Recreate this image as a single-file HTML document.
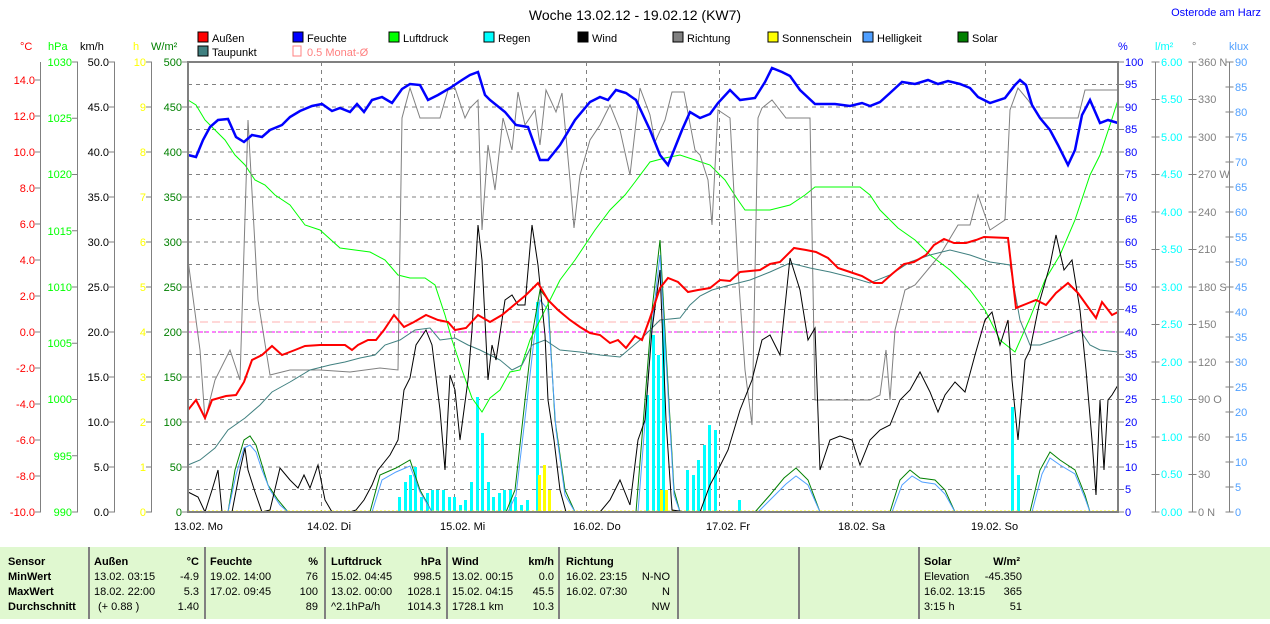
<!DOCTYPE html>
<html><head><meta charset="utf-8"><style>
body{margin:0;background:#fff;}
svg text{font-family:"Liberation Sans",sans-serif;font-size:11px;}
</style></head><body>
<svg width="1270" height="619" xmlns="http://www.w3.org/2000/svg">
<rect width="1270" height="619" fill="#fff"/>
<text x="635" y="20" text-anchor="middle" style="font-size:14px">Woche 13.02.12 - 19.02.12 (KW7)</text>
<text x="1261" y="16" text-anchor="end" fill="#0000ff">Osterode am Harz</text>
<g>
<rect x="198" y="32" width="10" height="10" fill="#ff0000" stroke="#000"/><text x="212" y="42">Außen</text>
<rect x="293" y="32" width="10" height="10" fill="#0000ff" stroke="#000"/><text x="307" y="42">Feuchte</text>
<rect x="389" y="32" width="10" height="10" fill="#00ff00" stroke="#000"/><text x="403" y="42">Luftdruck</text>
<rect x="484" y="32" width="10" height="10" fill="#00ffff" stroke="#000"/><text x="498" y="42">Regen</text>
<rect x="578" y="32" width="10" height="10" fill="#000" stroke="#000"/><text x="592" y="42">Wind</text>
<rect x="673" y="32" width="10" height="10" fill="#808080" stroke="#000"/><text x="687" y="42">Richtung</text>
<rect x="768" y="32" width="10" height="10" fill="#ffff00" stroke="#000"/><text x="782" y="42">Sonnenschein</text>
<rect x="863" y="32" width="10" height="10" fill="#4f9fff" stroke="#000"/><text x="877" y="42">Helligkeit</text>
<rect x="958" y="32" width="10" height="10" fill="#008000" stroke="#000"/><text x="972" y="42">Solar</text>
<rect x="198" y="46" width="10" height="10" fill="#408080" stroke="#000"/><text x="212" y="56">Taupunkt</text>
<rect x="293" y="46" width="8" height="10" fill="none" stroke="#ff8080"/><text x="307" y="56" fill="#ff8080">0.5 Monat-Ø</text>
</g>
<text x="20" y="50" fill="#ff0000">°C</text>
<text x="48" y="50" fill="#00ff00">hPa</text>
<text x="80" y="50">km/h</text>
<text x="133" y="50" fill="#ffff00">h</text>
<text x="151" y="50" fill="#008000">W/m²</text>
<text x="1118" y="50" fill="#0000ff">%</text>
<text x="1155" y="50" fill="#00ffff">l/m²</text>
<text x="1192" y="50" fill="#808080">°</text>
<text x="1229" y="50" fill="#4f9fff">klux</text>
<g stroke="#808080" stroke-width="1">
<line x1="40.5" y1="62" x2="40.5" y2="512"/><line x1="77.5" y1="62" x2="77.5" y2="512"/>
<line x1="114.5" y1="62" x2="114.5" y2="512"/><line x1="151.5" y1="62" x2="151.5" y2="512"/>
<line x1="1155.5" y1="62" x2="1155.5" y2="512"/><line x1="1192.5" y1="62" x2="1192.5" y2="512"/>
<line x1="1229.5" y1="62" x2="1229.5" y2="512"/>
</g>
<!-- ticks -->
<g stroke="#808080" fill="none">
<line x1="38" y1="79.5" x2="38" y2="513" stroke-width="6" stroke-dasharray="1 35"/>
<line x1="75" y1="61.5" x2="75" y2="513" stroke-width="6" stroke-dasharray="1 55.25"/>
<line x1="112" y1="61.5" x2="112" y2="513" stroke-width="6" stroke-dasharray="1 44"/>
<line x1="149" y1="61.5" x2="149" y2="513" stroke-width="6" stroke-dasharray="1 44"/>
<line x1="185" y1="61.5" x2="185" y2="513" stroke-width="6" stroke-dasharray="1 44"/>
<line x1="1121" y1="61.5" x2="1121" y2="513" stroke-width="6" stroke-dasharray="1 21.5"/>
<line x1="1155.5" y1="61.5" x2="1155.5" y2="513" stroke-width="8" stroke-dasharray="1 36.5"/>
<line x1="1192.5" y1="61.5" x2="1192.5" y2="513" stroke-width="8" stroke-dasharray="1 36.5"/>
<line x1="1229.5" y1="61.5" x2="1229.5" y2="513" stroke-width="8" stroke-dasharray="1 24"/>
</g>
<g stroke="#808080" stroke-dasharray="4,4" stroke-width="1">
<line x1="188" y1="84.5" x2="1118" y2="84.5"/><line x1="188" y1="107" x2="1118" y2="107"/><line x1="188" y1="129.5" x2="1118" y2="129.5"/><line x1="188" y1="152" x2="1118" y2="152"/><line x1="188" y1="174.5" x2="1118" y2="174.5"/><line x1="188" y1="197" x2="1118" y2="197"/><line x1="188" y1="219.5" x2="1118" y2="219.5"/><line x1="188" y1="242" x2="1118" y2="242"/><line x1="188" y1="264.5" x2="1118" y2="264.5"/><line x1="188" y1="287" x2="1118" y2="287"/><line x1="188" y1="309.5" x2="1118" y2="309.5"/><line x1="188" y1="332" x2="1118" y2="332"/><line x1="188" y1="354.5" x2="1118" y2="354.5"/><line x1="188" y1="377" x2="1118" y2="377"/><line x1="188" y1="399.5" x2="1118" y2="399.5"/><line x1="188" y1="422" x2="1118" y2="422"/><line x1="188" y1="444.5" x2="1118" y2="444.5"/><line x1="188" y1="467" x2="1118" y2="467"/><line x1="188" y1="489.5" x2="1118" y2="489.5"/>
<line x1="321.5" y1="62" x2="321.5" y2="512"/><line x1="454.5" y1="62" x2="454.5" y2="512"/><line x1="586.5" y1="62" x2="586.5" y2="512"/><line x1="719.5" y1="62" x2="719.5" y2="512"/><line x1="852.5" y1="62" x2="852.5" y2="512"/><line x1="985.5" y1="62" x2="985.5" y2="512"/>
</g>
<line x1="188" y1="322" x2="1118" y2="322" stroke="#ffb0b0" stroke-dasharray="8,4"/>
<line x1="188" y1="332" x2="1118" y2="332" stroke="#ff00ff" stroke-dasharray="3,3" stroke-width="1"/>
<g fill="#00ffff">
<rect x="398" y="497" width="3" height="15"/><rect x="404" y="482" width="3" height="30"/><rect x="409" y="475" width="3" height="37"/><rect x="414" y="467" width="3" height="45"/><rect x="420" y="497" width="3" height="15"/><rect x="426" y="493" width="3" height="19"/><rect x="431" y="490" width="3" height="22"/><rect x="436" y="490" width="3" height="22"/><rect x="442" y="490" width="3" height="22"/><rect x="448" y="497" width="3" height="15"/><rect x="453" y="497" width="3" height="15"/><rect x="459" y="505" width="3" height="7"/><rect x="464" y="500" width="3" height="12"/><rect x="470" y="482" width="3" height="30"/><rect x="476" y="397" width="3" height="115"/><rect x="481" y="433" width="3" height="79"/><rect x="487" y="482" width="3" height="30"/><rect x="492" y="497" width="3" height="15"/><rect x="498" y="493" width="3" height="19"/><rect x="503" y="490" width="3" height="22"/><rect x="509" y="490" width="3" height="22"/><rect x="514" y="497" width="3" height="15"/><rect x="520" y="505" width="3" height="7"/><rect x="526" y="500" width="3" height="12"/><rect x="536" y="302" width="3" height="210"/>
<rect x="646" y="395" width="3" height="117"/><rect x="652" y="335" width="3" height="177"/><rect x="657" y="355" width="3" height="157"/><rect x="662" y="320" width="3" height="192"/><rect x="686" y="470" width="3" height="42"/><rect x="692" y="475" width="3" height="37"/><rect x="697" y="460" width="3" height="52"/><rect x="703" y="445" width="3" height="67"/><rect x="708" y="425" width="3" height="87"/><rect x="714" y="430" width="3" height="82"/><rect x="738" y="500" width="3" height="12"/><rect x="1011" y="407" width="3" height="105"/><rect x="1017" y="475" width="3" height="37"/>
</g>
<g fill="#ffff00"><rect x="538" y="475" width="3" height="37"/><rect x="543" y="465" width="3" height="47"/><rect x="548" y="490" width="3" height="22"/><rect x="660" y="490" width="3" height="22"/><rect x="665" y="490" width="3" height="22"/></g>
<line x1="188" y1="511" x2="1118" y2="511" stroke="#ffff00" stroke-dasharray="2,2"/>
<polyline fill="none" stroke="#008000" points="188,512 228,512 235,470 244,440 250,436 256,445 262,465 268,485 278,500 288,512 370,512 380,475 396,468 410,460 420,490 432,512 506,512 515,490 525,400 533,330 540,290 548,300 555,420 565,490 575,512 636,512 645,400 652,310 660,240 666,350 674,490 680,512 755,512 770,495 784,478 796,468 808,480 820,512 890,512 900,480 910,470 920,478 935,480 945,490 955,512 1030,512 1040,470 1050,452 1060,460 1075,470 1085,495 1090,512 1118,512"/>
<polyline fill="none" stroke="#4f9fff" points="188,512 228,512 236,475 244,448 250,445 256,452 262,470 270,490 280,505 288,512 372,512 382,480 396,472 410,466 420,492 432,512 508,512 516,495 526,410 534,340 540,300 548,310 556,430 565,495 575,512 638,512 646,410 652,325 660,255 666,360 674,495 680,512 758,512 772,498 786,484 796,476 808,485 820,512 892,512 902,485 912,476 922,482 935,484 945,494 955,512 1032,512 1042,474 1050,458 1060,465 1075,474 1085,498 1090,512 1118,512"/>
<polyline fill="none" stroke="#00ff00" points="188,100 196,105 205,120 215,130 225,140 235,155 245,165 255,180 265,185 275,195 290,205 305,225 320,230 340,248 370,252 385,260 398,275 410,278 425,278 435,285 445,315 452,340 462,370 472,398 482,412 490,398 500,390 510,372 520,370 530,340 545,310 560,280 575,260 595,230 610,210 625,195 635,182 650,162 665,158 680,155 695,160 710,165 725,180 738,200 745,210 770,210 790,205 805,195 815,187 860,187 870,195 880,210 898,228 915,240 930,255 950,270 970,290 985,310 1000,340 1015,352 1030,318 1045,280 1060,255 1075,220 1090,175 1100,155 1110,125 1118,100"/>
<polyline fill="none" stroke="#808080" points="188,260 200,350 205,420 215,380 230,350 240,380 248,120 258,300 270,375 290,370 320,370 350,372 380,368 398,370 402,118 410,88 420,118 440,118 448,90 455,88 465,118 470,108 478,100 482,230 488,145 495,190 503,118 512,150 518,92 525,125 535,110 540,145 546,90 556,112 562,93 570,180 574,228 580,175 590,140 600,125 610,105 620,130 630,175 640,88 650,115 655,142 665,120 672,92 684,92 695,150 700,155 708,180 712,225 718,110 730,118 738,270 745,370 752,425 758,118 762,108 772,100 786,118 810,118 815,400 850,400 870,400 880,395 886,350 890,400 895,330 905,290 915,285 940,255 958,225 970,225 978,195 990,230 1005,220 1010,110 1018,88 1028,100 1040,118 1060,118 1078,118 1085,90 1118,90"/>
<polyline fill="none" stroke="#408080" points="188,465 200,460 215,448 228,430 245,418 260,405 272,392 290,382 310,370 330,365 345,362 360,358 375,355 385,345 400,340 415,330 430,328 440,340 455,338 468,345 480,350 490,355 500,360 512,370 522,365 532,345 545,340 560,350 580,352 600,355 620,357 640,340 660,320 680,318 690,305 700,296 712,290 730,285 750,280 770,272 790,263 810,268 830,272 850,277 870,283 890,275 910,262 930,255 950,250 970,255 990,262 1010,265 1020,320 1030,345 1040,345 1060,338 1080,330 1090,345 1100,350 1118,352"/>
<polyline fill="none" stroke="#000" points="188,492 198,497 205,512 212,490 218,470 222,512 232,512 240,470 245,448 248,470 255,492 262,512 270,510 280,468 290,480 298,488 304,475 310,488 318,465 325,500 332,512 350,512 356,510 364,500 372,485 378,470 390,455 398,440 404,390 410,378 416,345 426,330 432,345 440,410 445,470 450,375 455,390 460,440 468,380 472,330 478,225 482,260 488,380 492,345 496,360 505,300 512,295 518,305 525,305 532,225 538,265 545,335 548,400 554,440 560,490 566,512 600,512 610,500 620,480 630,505 638,440 645,420 652,330 660,270 666,420 672,510 686,512 700,512 710,485 718,470 728,450 740,410 752,380 762,340 770,335 780,355 790,258 800,290 808,340 815,328 820,470 830,440 840,436 852,440 860,465 870,440 880,430 890,425 900,400 910,390 920,372 930,392 938,412 945,395 955,382 965,392 975,355 985,320 992,312 1000,345 1008,320 1012,380 1018,440 1025,360 1030,350 1040,300 1050,265 1056,235 1064,270 1072,260 1080,310 1086,370 1092,440 1096,495 1100,400 1104,470 1108,400 1112,395 1118,385"/>
<polyline fill="none" stroke="#ff0000" stroke-width="2" points="188,410 196,400 205,418 212,400 226,396 236,395 244,382 252,360 262,355 272,346 282,355 295,350 305,346 320,345 345,345 352,350 358,345 368,340 376,340 384,330 394,315 404,327 414,322 426,315 438,320 448,322 455,330 466,328 478,315 490,322 502,315 514,305 526,295 538,283 548,300 558,310 570,320 580,327 590,333 600,335 610,343 618,340 626,348 635,336 642,340 650,318 660,288 668,278 678,282 688,292 698,290 710,288 720,280 730,281 740,272 760,270 770,264 780,262 794,248 806,250 816,252 828,258 838,268 850,272 862,276 874,283 882,283 892,274 904,264 914,262 926,255 934,245 944,239 954,243 966,243 976,240 984,237 1008,238 1016,308 1026,304 1036,300 1046,305 1056,293 1068,283 1078,293 1088,307 1096,318 1102,302 1112,315 1118,312"/>
<polyline fill="none" stroke="#0000ff" stroke-width="2.5" points="188,155 196,157 203,140 210,127 218,120 228,119 236,137 244,142 252,135 262,137 270,130 282,125 290,117 300,111 312,106 322,104 332,111 340,108 350,112 357,104 364,112 372,100 382,97 392,103 402,89 410,84 420,85 428,100 438,95 450,88 462,80 470,75 478,72 485,95 490,100 505,112 516,125 528,127 540,160 548,160 560,145 575,120 590,102 600,97 608,100 616,90 626,93 636,100 650,130 660,155 668,165 674,150 682,130 690,112 700,118 710,114 718,103 730,90 740,100 755,98 765,82 772,68 782,72 790,76 800,90 815,104 835,104 850,106 862,103 870,106 880,102 890,93 902,82 915,84 928,80 938,84 948,81 960,84 970,88 978,97 990,103 1005,98 1015,85 1020,80 1026,85 1032,105 1040,118 1050,130 1058,145 1068,165 1075,150 1082,115 1090,100 1100,123 1108,120 1118,123"/>
<rect x="188" y="62" width="930" height="450" fill="none" stroke="#808080" stroke-width="2"/>
<g fill="#ff0000" text-anchor="end">
<text x="35" y="84">14.0</text><text x="35" y="120">12.0</text><text x="35" y="156">10.0</text><text x="35" y="192">8.0</text><text x="35" y="228">6.0</text><text x="35" y="264">4.0</text><text x="35" y="300">2.0</text><text x="35" y="336">0.0</text><text x="35" y="372">-2.0</text><text x="35" y="408">-4.0</text><text x="35" y="444">-6.0</text><text x="35" y="480">-8.0</text><text x="35" y="516">-10.0</text>
</g>
<g fill="#00ff00" text-anchor="end">
<text x="72" y="66">1030</text><text x="72" y="122">1025</text><text x="72" y="178">1020</text><text x="72" y="235">1015</text><text x="72" y="291">1010</text><text x="72" y="347">1005</text><text x="72" y="403">1000</text><text x="72" y="460">995</text><text x="72" y="516">990</text>
</g>
<g fill="#000" text-anchor="end">
<text x="109" y="66">50.0</text><text x="109" y="111">45.0</text><text x="109" y="156">40.0</text><text x="109" y="201">35.0</text><text x="109" y="246">30.0</text><text x="109" y="291">25.0</text><text x="109" y="336">20.0</text><text x="109" y="381">15.0</text><text x="109" y="426">10.0</text><text x="109" y="471">5.0</text><text x="109" y="516">0.0</text>
</g>
<g fill="#ffff00" text-anchor="end">
<text x="146" y="66">10</text><text x="146" y="111">9</text><text x="146" y="156">8</text><text x="146" y="201">7</text><text x="146" y="246">6</text><text x="146" y="291">5</text><text x="146" y="336">4</text><text x="146" y="381">3</text><text x="146" y="426">2</text><text x="146" y="471">1</text><text x="146" y="516">0</text>
</g>
<g fill="#008000" text-anchor="end">
<text x="182" y="66">500</text><text x="182" y="111">450</text><text x="182" y="156">400</text><text x="182" y="201">350</text><text x="182" y="246">300</text><text x="182" y="291">250</text><text x="182" y="336">200</text><text x="182" y="381">150</text><text x="182" y="426">100</text><text x="182" y="471">50</text><text x="182" y="516">0</text>
</g>
<g fill="#0000ff">
<text x="1125" y="66">100</text><text x="1125" y="88">95</text><text x="1125" y="111">90</text><text x="1125" y="133">85</text><text x="1125" y="156">80</text><text x="1125" y="178">75</text><text x="1125" y="201">70</text><text x="1125" y="223">65</text><text x="1125" y="246">60</text><text x="1125" y="268">55</text><text x="1125" y="291">50</text><text x="1125" y="313">45</text><text x="1125" y="336">40</text><text x="1125" y="358">35</text><text x="1125" y="381">30</text><text x="1125" y="403">25</text><text x="1125" y="426">20</text><text x="1125" y="448">15</text><text x="1125" y="471">10</text><text x="1125" y="493">5</text><text x="1125" y="516">0</text>
</g>
<g fill="#00ffff">
<text x="1161" y="66">6.00</text><text x="1161" y="103">5.50</text><text x="1161" y="141">5.00</text><text x="1161" y="178">4.50</text><text x="1161" y="216">4.00</text><text x="1161" y="253">3.50</text><text x="1161" y="291">3.00</text><text x="1161" y="328">2.50</text><text x="1161" y="366">2.00</text><text x="1161" y="403">1.50</text><text x="1161" y="441">1.00</text><text x="1161" y="478">0.50</text><text x="1161" y="516">0.00</text>
</g>
<g fill="#808080">
<text x="1198" y="66">360 N</text><text x="1198" y="103">330</text><text x="1198" y="141">300</text><text x="1198" y="178">270 W</text><text x="1198" y="216">240</text><text x="1198" y="253">210</text><text x="1198" y="291">180 S</text><text x="1198" y="328">150</text><text x="1198" y="366">120</text><text x="1198" y="403">90 O</text><text x="1198" y="441">60</text><text x="1198" y="478">30</text><text x="1198" y="516">0 N</text>
</g>
<g fill="#4f9fff">
<text x="1235" y="66">90</text><text x="1235" y="91">85</text><text x="1235" y="116">80</text><text x="1235" y="141">75</text><text x="1235" y="166">70</text><text x="1235" y="191">65</text><text x="1235" y="216">60</text><text x="1235" y="241">55</text><text x="1235" y="266">50</text><text x="1235" y="291">45</text><text x="1235" y="316">40</text><text x="1235" y="341">35</text><text x="1235" y="366">30</text><text x="1235" y="391">25</text><text x="1235" y="416">20</text><text x="1235" y="441">15</text><text x="1235" y="466">10</text><text x="1235" y="491">5</text><text x="1235" y="516">0</text>
</g>
<g style="font-size:12px">
<text x="174" y="530">13.02.  Mo</text><text x="307" y="530">14.02.  Di</text><text x="440" y="530">15.02.  Mi</text><text x="573" y="530">16.02.  Do</text><text x="706" y="530">17.02.  Fr</text><text x="838" y="530">18.02.  Sa</text><text x="971" y="530">19.02.  So</text>
</g>
<rect x="0" y="547" width="1270" height="72" fill="#e0f8d0"/>
<g stroke="#808080" stroke-width="2">
<line x1="89" y1="547" x2="89" y2="619"/><line x1="205" y1="547" x2="205" y2="619"/><line x1="325" y1="547" x2="325" y2="619"/><line x1="447" y1="547" x2="447" y2="619"/><line x1="559" y1="547" x2="559" y2="619"/><line x1="678" y1="547" x2="678" y2="619"/><line x1="799" y1="547" x2="799" y2="619"/><line x1="919" y1="547" x2="919" y2="619"/>
</g>
<g font-weight="bold"><text x="8" y="565">Sensor</text><text x="8" y="580">MinWert</text><text x="8" y="595">MaxWert</text><text x="8" y="610">Durchschnitt</text>
<text x="94" y="565">Außen</text><text x="199" y="565" text-anchor="end">°C</text>
<text x="210" y="565">Feuchte</text><text x="318" y="565" text-anchor="end">%</text>
<text x="331" y="565">Luftdruck</text><text x="441" y="565" text-anchor="end">hPa</text>
<text x="452" y="565">Wind</text><text x="554" y="565" text-anchor="end">km/h</text>
<text x="566" y="565">Richtung</text>
<text x="924" y="565">Solar</text><text x="1020" y="565" text-anchor="end">W/m²</text></g>
<g>
<text x="94" y="580">13.02.  03:15</text><text x="199" y="580" text-anchor="end">-4.9</text>
<text x="94" y="595">18.02.  22:00</text><text x="199" y="595" text-anchor="end">5.3</text>
<text x="98" y="610">(+ 0.88 )</text><text x="199" y="610" text-anchor="end">1.40</text>
<text x="210" y="580">19.02.  14:00</text><text x="318" y="580" text-anchor="end">76</text>
<text x="210" y="595">17.02.  09:45</text><text x="318" y="595" text-anchor="end">100</text>
<text x="318" y="610" text-anchor="end">89</text>
<text x="331" y="580">15.02.  04:45</text><text x="441" y="580" text-anchor="end">998.5</text>
<text x="331" y="595">13.02.  00:00</text><text x="441" y="595" text-anchor="end">1028.1</text>
<text x="331" y="610">^2.1hPa/h</text><text x="441" y="610" text-anchor="end">1014.3</text>
<text x="452" y="580">13.02.  00:15</text><text x="554" y="580" text-anchor="end">0.0</text>
<text x="452" y="595">15.02.  04:15</text><text x="554" y="595" text-anchor="end">45.5</text>
<text x="452" y="610">1728.1 km</text><text x="554" y="610" text-anchor="end">10.3</text>
<text x="566" y="580">16.02.  23:15</text><text x="670" y="580" text-anchor="end">N-NO</text>
<text x="566" y="595">16.02.  07:30</text><text x="670" y="595" text-anchor="end">N</text>
<text x="670" y="610" text-anchor="end">NW</text>
<text x="924" y="580">Elevation</text><text x="1022" y="580" text-anchor="end">-45.350</text>
<text x="924" y="595">16.02.  13:15</text><text x="1022" y="595" text-anchor="end">365</text>
<text x="924" y="610">3:15 h</text><text x="1022" y="610" text-anchor="end">51</text>
</g>
</svg>
</body></html>
